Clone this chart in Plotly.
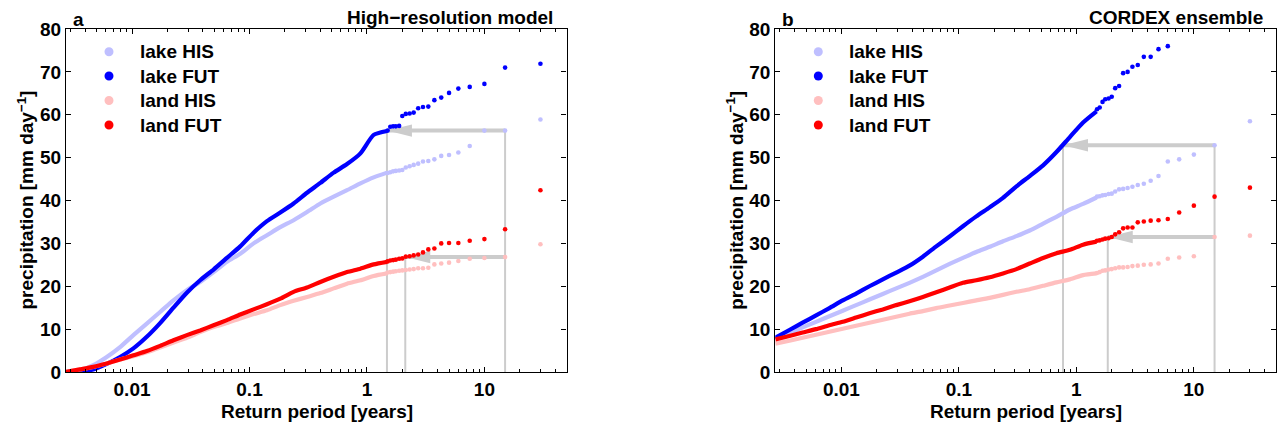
import math
import plotly.graph_objects as go

W, H = 1279, 430

# ---------------- data ----------------
# return periods [years] of the densely sampled part of each curve
DENSE_T = [0.00274, 0.00361, 0.00468, 0.00609, 0.00791, 0.01027, 0.01335, 0.01734,
           0.02252, 0.02928, 0.0380, 0.0494, 0.0642, 0.0834, 0.1083, 0.1408, 0.1829,
           0.2374, 0.309, 0.401, 0.521, 0.677, 0.880, 1.141, 1.485]
# return periods [years] of the individually visible (largest) events
TAIL_T = [30, 15, 10, 7.5, 6, 5, 4.29, 3.75, 3.33, 3.0, 2.73, 2.5, 2.31, 2.14, 2.0,
          1.88, 1.76, 1.67, 1.58, 1.5]

SERIES = ["lake HIS", "lake FUT", "land HIS", "land FUT"]
COLORS = ["#bfbfff", "#0000ff", "#ffbfbf", "#ff0000"]

# panel a: High-resolution model
A_LAKE_HIS_DENSE = [0, 0.4, 1.6, 3.5, 5.8, 8.6, 11.3, 14.0, 16.7, 19.1, 21.0, 23.3, 25.7,
                    27.6, 30.0, 31.9, 33.8, 35.4, 37.3, 39.3, 40.9, 42.4, 44.0, 45.4, 46.5]
A_LAKE_FUT_DENSE = [0, 0.1, 0.6, 1.9, 3.5, 5.5, 8.2, 11.4, 15.0, 18.5, 21.4, 23.9, 26.6,
                    29.3, 32.5, 35.2, 37.2, 39.3, 41.8, 44.1, 46.5, 48.5, 51.0, 55.3, 56.2]
A_LAND_HIS_DENSE = [0, 0.6, 1.2, 2.0, 2.9, 3.7, 4.6, 5.7, 6.9, 8.0, 9.3, 10.5, 11.4,
                    12.5, 13.5, 14.4, 15.6, 16.6, 17.5, 18.4, 19.5, 20.6, 21.4, 22.4, 23.0]
A_LAND_FUT_DENSE = [0, 0.6, 1.2, 2.0, 2.9, 3.9, 4.9, 6.1, 7.4, 8.6, 9.7, 10.9, 12.1,
                    13.4, 14.6, 15.8, 17.1, 18.7, 19.7, 21.0, 22.2, 23.3, 24.1, 25.1, 25.7]
A_LAKE_HIS_TAIL = [58.9, 56.3, 56.3, 52.7, 51.2, 50.6, 50.4, 49.6, 49.2, 49.1, 48.6, 48.3,
                   48.0, 47.7, 47.1, 47.0, 46.9, 46.8, 46.6, 46.4]
A_LAKE_FUT_TAIL = [71.9, 71.0, 67.2, 66.5, 66.1, 65.1, 64.0, 63.4, 61.9, 61.8, 61.5, 60.5,
                   60.3, 60.2, 59.7, 57.4, 57.3, 57.3, 57.2, 56.3]
A_LAND_HIS_TAIL = [29.8, 26.8, 26.6, 26.4, 25.9, 25.5, 25.3, 25.1, 24.3, 24.2, 24.2, 24.0,
                   23.9, 23.8, 23.7, 23.6, 23.5, 23.4, 23.3, 23.2]
A_LAND_FUT_TAIL = [42.4, 33.3, 31.0, 30.6, 30.1, 30.1, 30.0, 28.8, 28.6, 27.9, 27.4, 27.2,
                   27.0, 26.9, 26.5, 26.4, 26.2, 26.1, 26.0, 25.8]
A_ARROW_TIP_T = [1.48, 2.12]   # where FUT reaches the HIS 15-year level

# panel b: CORDEX ensemble
B_LAKE_HIS_DENSE = [7.8, 9.1, 10.4, 11.7, 13.0, 14.3, 15.6, 16.9, 18.2, 19.5, 20.8, 22.2,
                    23.7, 25.2, 26.6, 28.0, 29.2, 30.5, 31.7, 33.0, 34.6, 36.2, 37.9, 39.2, 40.7]
B_LAKE_FUT_DENSE = [8.0, 9.8, 11.5, 13.2, 14.9, 16.7, 18.3, 20.0, 21.6, 23.2, 24.8, 26.9,
                    29.3, 31.6, 34.0, 36.3, 38.4, 40.6, 43.3, 45.7, 48.2, 51.3, 54.8, 58.2, 60.8]
B_LAND_HIS_DENSE = [6.6, 7.3, 8.0, 8.7, 9.4, 10.1, 10.8, 11.5, 12.2, 12.9, 13.6, 14.2,
                    14.9, 15.5, 16.1, 16.7, 17.3, 18.0, 18.7, 19.3, 20.1, 20.9, 21.6, 22.6, 23.0]
B_LAND_FUT_DENSE = [7.6, 8.4, 9.2, 10.0, 10.9, 11.7, 12.7, 13.7, 14.6, 15.6, 16.5, 17.5,
                    18.6, 19.7, 20.8, 21.4, 22.1, 23.0, 24.0, 25.3, 26.6, 27.7, 28.5, 29.7, 30.4]
B_LAKE_HIS_TAIL = [58.5, 52.9, 50.7, 49.6, 49.1, 45.7, 44.6, 43.9, 43.6, 43.2, 42.9, 42.7,
                   42.6, 42.1, 41.6, 41.5, 41.3, 41.2, 41.0, 40.9]
B_LAKE_FUT_TAIL = [None, None, None, None, 76.0, 75.3, 73.5, 73.5, 71.6, 71.2, 70.0, 69.7,
                   66.7, 66.2, 64.2, 63.8, 63.6, 63.0, 61.7, 61.3]
B_LAND_HIS_TAIL = [31.8, 31.5, 27.0, 26.7, 26.4, 25.3, 25.1, 25.0, 24.8, 24.7, 24.5, 24.4,
                   24.4, 24.2, 24.0, 23.9, 23.7, 23.6, 23.3, 23.1]
B_LAND_FUT_TAIL = [43.0, 40.9, 38.8, 37.2, 35.7, 35.4, 35.3, 35.1, 34.9, 33.7, 33.7, 33.5,
                   32.6, 32.1, 31.5, 31.2, 31.1, 30.9, 30.7, 30.6]
B_ARROW_TIP_T = [0.77, 1.85]

X_TICKS = [0.01, 0.1, 1, 10]
X_TICKTEXT = ["0.01", "0.1", "1", "10"]
Y_TICKS = [0, 10, 20, 30, 40, 50, 60, 70, 80]
PANEL_LETTERS = ["a", "b"]
PANEL_TITLES = ["High\u2212resolution model", "CORDEX ensemble"]

# ---------------- layout constants (pixels) ----------------
FONT = "Liberation Sans, Arial, Helvetica, sans-serif"
FS = 19
GRAY = "#cccccc"
PLOT_TOP, PLOT_BOTTOM = 29, 372
PANEL_LEFT = [66, 775.3]
PANEL_RIGHT = [566.5, 1276]

panels = [
    dict(dense=[A_LAKE_HIS_DENSE, A_LAKE_FUT_DENSE, A_LAND_HIS_DENSE, A_LAND_FUT_DENSE],
         tail=[A_LAKE_HIS_TAIL, A_LAKE_FUT_TAIL, A_LAND_HIS_TAIL, A_LAND_FUT_TAIL],
         tips=A_ARROW_TIP_T),
    dict(dense=[B_LAKE_HIS_DENSE, B_LAKE_FUT_DENSE, B_LAND_HIS_DENSE, B_LAND_FUT_DENSE],
         tail=[B_LAKE_HIS_TAIL, B_LAKE_FUT_TAIL, B_LAND_HIS_TAIL, B_LAND_FUT_TAIL],
         tips=B_ARROW_TIP_T),
]

fig = go.Figure()
shapes = []
annotations = []


def px_x(p):
    return p / W


def px_y(p):
    return 1 - p / H


minor_vals = [m * 10 ** e for e in range(-3, 2) for m in range(2, 10)]
bold = dict(family=FONT, size=FS, color="black", weight="bold")

for i, pan in enumerate(panels):
    xa = "x" if i == 0 else "x2"
    ya = "y" if i == 0 else "y2"
    # gray arrows/lines (drawn below the data)
    his_idx = [0, 2]
    for j, tip in enumerate(pan["tips"]):
        yv = pan["tail"][his_idx[j]][1]          # HIS value at the 15-year return period
        t15 = TAIL_T[1]
        shapes.append(dict(type="line", xref=xa, yref=ya, x0=t15, x1=tip, y0=yv, y1=yv,
                           line=dict(color=GRAY, width=4), layer="below"))
        shapes.append(dict(type="line", xref=xa, yref=ya, x0=tip, x1=tip, y0=0, y1=yv,
                           line=dict(color=GRAY, width=2), layer="below"))
        shapes.append(dict(type="path", xref=xa, yref=ya, xsizemode="pixel",
                           ysizemode="pixel", xanchor=tip, yanchor=yv,
                           path="M0,0 L25,6.2 L25,-6.2 Z", fillcolor=GRAY,
                           line=dict(width=0), layer="below"))
    top15 = pan["tail"][0][1]
    shapes.append(dict(type="line", xref=xa, yref=ya, x0=TAIL_T[1], x1=TAIL_T[1], y0=0,
                       y1=top15, line=dict(color=GRAY, width=2), layer="below"))

    for s in range(4):
        fig.add_trace(go.Scatter(x=DENSE_T, y=pan["dense"][s], mode="lines",
                                 line=dict(color=COLORS[s], width=4.2, shape="spline",
                                           smoothing=0.6),
                                 xaxis=xa, yaxis=ya, showlegend=False,
                                 name=SERIES[s], hoverinfo="skip"))
        fig.add_trace(go.Scatter(x=TAIL_T, y=pan["tail"][s], mode="markers",
                                 marker=dict(color=COLORS[s], size=4.6, line=dict(width=0)),
                                 xaxis=xa, yaxis=ya, showlegend=False,
                                 name=SERIES[s]))

    # legend (dots + labels)
    x0 = PANEL_LEFT[i]
    rows = [51.7, 76, 100.5, 125]
    for s in range(4):
        cx = x0 + 43
        shapes.append(dict(type="circle", xref="paper", yref="paper", xsizemode="pixel",
                           ysizemode="pixel", xanchor=px_x(cx), yanchor=px_y(rows[s]),
                           x0=-4.5, x1=4.5, y0=-4.5, y1=4.5, fillcolor=COLORS[s],
                           line=dict(width=0)))
        annotations.append(dict(xref="paper", yref="paper", x=px_x(x0 + 72),
                                y=px_y(rows[s]), text=SERIES[s], showarrow=False,
                                xanchor="left", yanchor="middle", font=bold))

    # panel letters and titles
    annotations.append(dict(xref="paper", yref="paper", x=px_x(x0 + 4.5), y=px_y(19),
                            text=PANEL_LETTERS[i], showarrow=False, xanchor="left",
                            yanchor="middle", font=bold))
    annotations.append(dict(xref="paper", yref="paper", x=px_x(PANEL_RIGHT[i] - 11.5),
                            y=px_y(17), text=PANEL_TITLES[i], showarrow=False,
                            xanchor="right", yanchor="middle", font=bold))
    # axis titles
    annotations.append(dict(xref="paper", yref="paper",
                            x=px_x((PANEL_LEFT[i] + PANEL_RIGHT[i]) / 2 + 0.5),
                            y=px_y(411.5), text="Return period [years]", showarrow=False,
                            xanchor="center", yanchor="middle", font=bold))
    annotations.append(dict(xref="paper", yref="paper", x=px_x(x0 - 41), y=px_y(200.5),
                            text="precipitation [mm day<sup>\u22121</sup>]",
                            textangle=-90, showarrow=False, xanchor="center",
                            yanchor="middle", font=bold))

    common_axis = dict(showline=True, linecolor="black", linewidth=1.3, mirror="ticks",
                       ticks="inside", ticklen=5, tickwidth=1, tickcolor="black",
                       showgrid=False, zeroline=False, tickfont=bold, fixedrange=True,
                       automargin=False)
    xaxis = dict(common_axis, type="log",
                 range=[math.log10(1 / 365), math.log10(50)],
                 domain=[px_x(PANEL_LEFT[i]), px_x(PANEL_RIGHT[i])],
                 anchor=ya, tickmode="array", tickvals=X_TICKS, ticktext=X_TICKTEXT,
                 minor=dict(ticks="inside", ticklen=2.5, tickwidth=1, tickcolor="black",
                            tickmode="array", tickvals=minor_vals, showgrid=False))
    yaxis = dict(common_axis, range=[0, 80], tickmode="array", tickvals=Y_TICKS,
                 domain=[px_y(PLOT_BOTTOM), px_y(PLOT_TOP)], anchor=xa)
    if i == 0:
        fig.update_layout(xaxis=xaxis, yaxis=yaxis)
    else:
        fig.update_layout(xaxis2=xaxis, yaxis2=yaxis)

fig.update_layout(
    width=W, height=H, margin=dict(l=0, r=0, t=0, b=0, pad=0, autoexpand=False),
    paper_bgcolor="white", plot_bgcolor="white",
    font=dict(family=FONT, size=FS, color="black"),
    shapes=shapes, annotations=annotations, showlegend=False,
)

fig.write_html("out.html")
